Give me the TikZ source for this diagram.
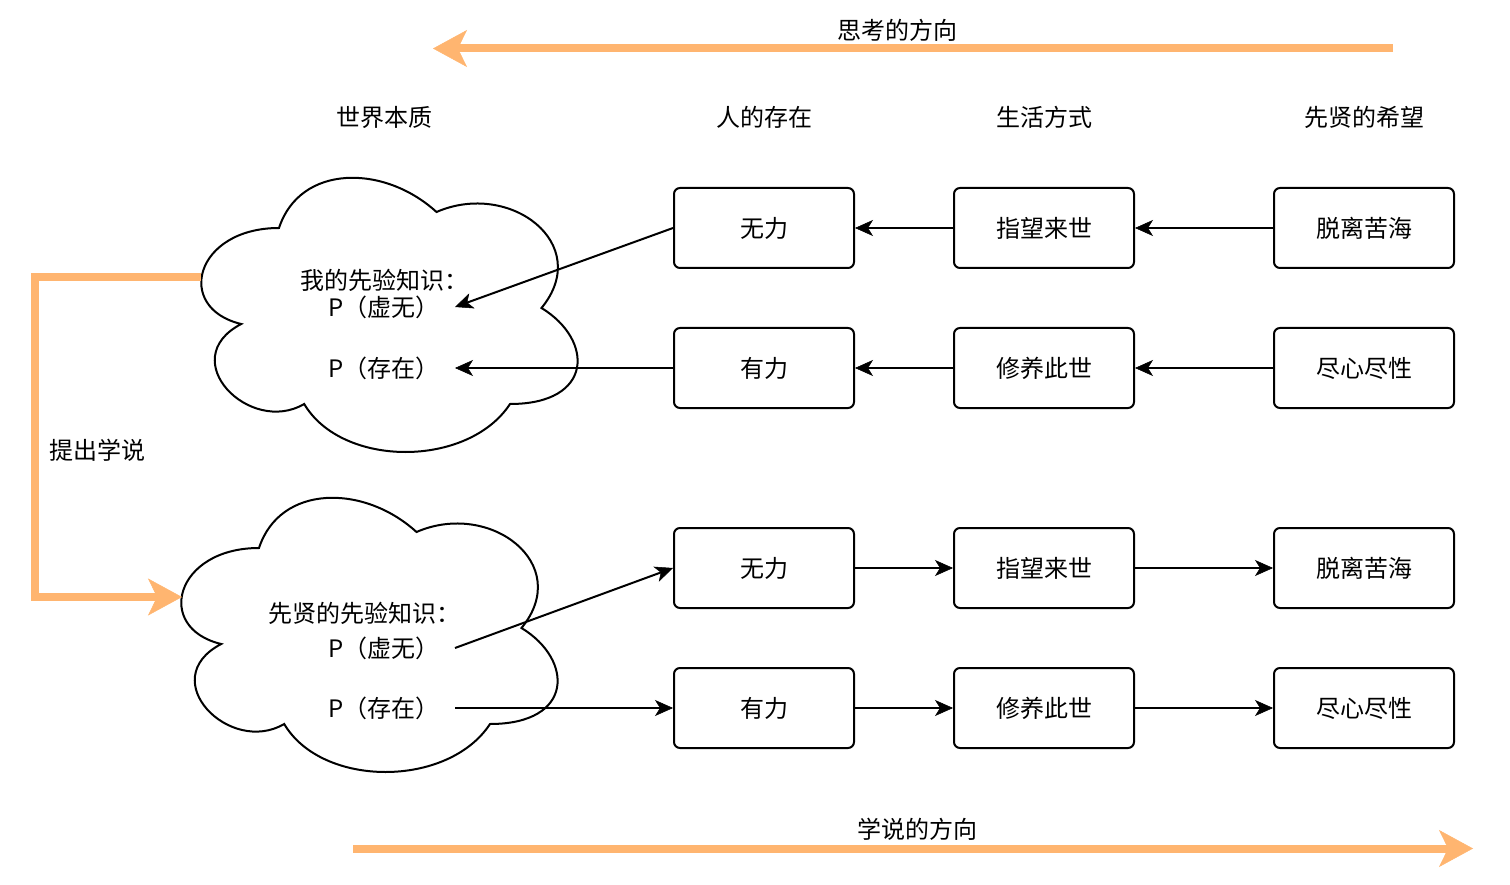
\documentclass[tikz,border=0pt]{standalone}
\usepackage{fontspec}
\setmainfont{Noto Sans CJK SC}
\usetikzlibrary{arrows.meta}
\definecolor{orng}{HTML}{FFB570}
\begin{document}
\begin{tikzpicture}[x=1pt,y=-1pt,
  every node/.style={font=\fontsize{24pt}{29pt}\selectfont, inner sep=0pt},
  box/.style={draw, line width=2pt, rounded corners=6pt, minimum width=180pt, minimum height=80pt},
  conn/.style={line width=2pt, -{Stealth[length=18pt,width=16pt,inset=5pt,line width=0.5pt]}},
  bigarrow/.style={draw=orng, line width=8pt, -{Stealth[length=34pt,width=37pt,inset=9pt,line width=0.5pt]}},
  cloudline/.style={draw, line width=2pt, fill=white}]
\useasboundingbox (0,0) rectangle (1510,885);

% clouds
\begin{scope}[shift={(174,148)}]
\draw[cloudline] (105,80) .. controls (21,80) and (0,160) .. (67.2,176) .. controls (0,211.2) and (75.6,288) .. (130.2,256) .. controls (168,320) and (294,320) .. (336,256) .. controls (420,256) and (420,192) .. (367.5,160) .. controls (420,96) and (336,32) .. (262.5,64) .. controls (210,16) and (126,16) .. (105,80) -- cycle;
\end{scope}
\begin{scope}[shift={(154,468)}]
\draw[cloudline] (105,80) .. controls (21,80) and (0,160) .. (67.2,176) .. controls (0,211.2) and (75.6,288) .. (130.2,256) .. controls (168,320) and (294,320) .. (336,256) .. controls (420,256) and (420,192) .. (367.5,160) .. controls (420,96) and (336,32) .. (262.5,64) .. controls (210,16) and (126,16) .. (105,80) -- cycle;
\end{scope}

% headers
\node (h1) at (384,117) {世界本质};
\node (h2) at (764,117) {人的存在};
\node (h3) at (1044,117) {生活方式};
\node (h4) at (1364,117) {先贤的希望};

% cloud texts
\node (kA) at (384,280) {我的先验知识：};
\node (pxA) at (384,307) {P（虚无）};
\node (pcA) at (384,368) {P（存在）};
\node (kB) at (364,613) {先贤的先验知识：};
\node (pxB) at (384,648) {P（虚无）};
\node (pcB) at (384,708) {P（存在）};

\coordinate (tA1) at (455,307);
\coordinate (tA2) at (455,368);
\coordinate (tB1) at (455,648);
\coordinate (tB2) at (455,708);

% boxes
\node[box] (a1) at (764,228) {无力};
\node[box] (a2) at (1044,228) {指望来世};
\node[box] (a3) at (1364,228) {脱离苦海};
\node[box] (b1) at (764,368) {有力};
\node[box] (b2) at (1044,368) {修养此世};
\node[box] (b3) at (1364,368) {尽心尽性};
\node[box] (c1) at (764,568) {无力};
\node[box] (c2) at (1044,568) {指望来世};
\node[box] (c3) at (1364,568) {脱离苦海};
\node[box] (d1) at (764,708) {有力};
\node[box] (d2) at (1044,708) {修养此世};
\node[box] (d3) at (1364,708) {尽心尽性};

% connectors
\draw[conn] (a3) -- (a2);
\draw[conn] (a2) -- (a1);
\draw[conn] (a1.west) -- (tA1);
\draw[conn] (b3) -- (b2);
\draw[conn] (b2) -- (b1);
\draw[conn] (b1.west) -- (tA2);
\draw[conn] (tB1) -- (c1.west);
\draw[conn] (c1) -- (c2);
\draw[conn] (c2) -- (c3);
\draw[conn] (tB2) -- (d1.west);
\draw[conn] (d1) -- (d2);
\draw[conn] (d2) -- (d3);

% orange arrows
\coordinate (thS) at (1393,48.5);
\coordinate (thE) at (433,48.5);
\draw[bigarrow] (thS) -- (thE);
\node (thL) at (897,30) {思考的方向};

\coordinate (xsS) at (353,848.5);
\coordinate (xsE) at (1473,848.5);
\draw[bigarrow] (xsS) -- (xsE);
\node (xsL) at (917,829) {学说的方向};

\coordinate (cAl) at (201,277);
\coordinate (cBl) at (182,597);
\draw[bigarrow] (cAl) -- ++(-166.5,0) |- (cBl);
\node (tc) at (97,450) {提出学说};
\end{tikzpicture}
\end{document}
